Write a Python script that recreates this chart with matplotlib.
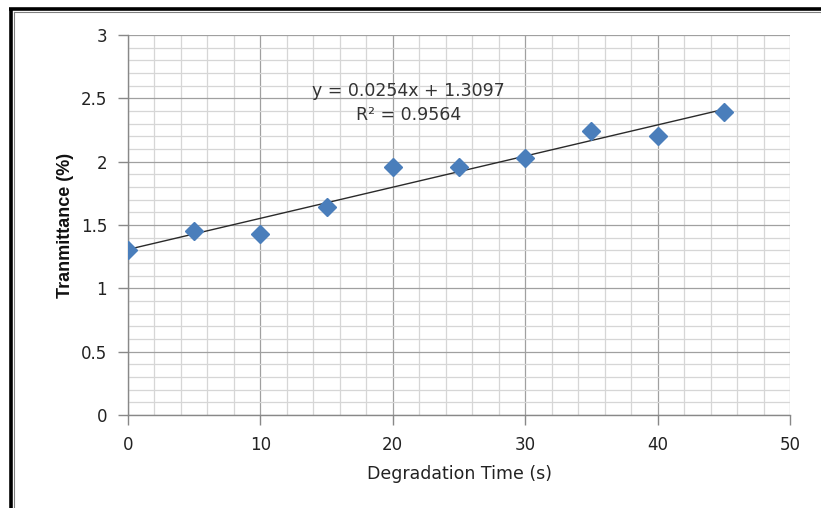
import numpy as np
import matplotlib
matplotlib.use("Agg")
import matplotlib.pyplot as plt
from matplotlib.lines import Line2D

time_s = [0, 5, 10, 15, 20, 25, 30, 35, 40, 45]
transmittance = [1.30, 1.45, 1.43, 1.64, 1.96, 1.96, 2.03, 2.24, 2.20, 2.39]
eq_text = "y = 0.0254x + 1.3097"
r2_text = "R² = 0.9564"
x_ticks = [0, 10, 20, 30, 40, 50]
y_ticks = [0, 0.5, 1, 1.5, 2, 2.5, 3]
y_tick_labels = ["0", "0.5", "1", "1.5", "2", "2.5", "3"]

plt.rcParams['font.family'] = ['DejaVu Sans']

W, H = 821, 508
fig = plt.figure(figsize=(W / 100, H / 100), dpi=100)
ax = fig.add_axes([128 / W, 1 - 415 / H, (790 - 128) / W, (415 - 35) / H])

# outer frame
fig.add_artist(Line2D([10.5 / W, 10.5 / W], [0, 1 - 9 / H], transform=fig.transFigure,
                      color='black', lw=2.6, solid_capstyle='butt'))
fig.add_artist(Line2D([9 / W, 1], [1 - 9 / H, 1 - 9 / H], transform=fig.transFigure,
                      color='black', lw=2.6, solid_capstyle='butt'))
fig.add_artist(Line2D([13.5 / W, 13.5 / W], [0, 1 - 11.8 / H], transform=fig.transFigure,
                      color='#808080', lw=0.8))
fig.add_artist(Line2D([13.5 / W, 1], [1 - 11.8 / H, 1 - 11.8 / H], transform=fig.transFigure,
                      color='#808080', lw=0.8))

ax.set_xlim(0, 50)
ax.set_ylim(0, 3)
ax.set_xticks(x_ticks)
ax.set_yticks(y_ticks)
ax.set_yticklabels(y_tick_labels)
ax.set_xticks(np.arange(0, 51, 2), minor=True)
ax.set_yticks(np.arange(0, 3.01, 0.1), minor=True)
ax.grid(which='minor', color='#d6d6d6', lw=0.9)
ax.grid(which='major', color='#a0a0a0', lw=0.9)
ax.set_axisbelow(True)
ax.tick_params(which='minor', length=0)
ax.tick_params(which='major', length=7, width=1, color='#888888', labelsize=12,
               labelcolor='#222222')
ax.tick_params(axis='y', pad=8)
ax.tick_params(axis='x', pad=8)
for s in ['top', 'right']:
    ax.spines[s].set_visible(False)
for s in ['left', 'bottom']:
    ax.spines[s].set_color('#888888')
    ax.spines[s].set_linewidth(1)

slope, intercept = np.polyfit(time_s, transmittance, 1)
xs = np.array([min(time_s), max(time_s)])
ax.plot(xs, slope * xs + intercept, color='#2a2a2a', lw=1.0, zorder=3)
ax.plot(time_s, transmittance, linestyle='none', marker='D', markersize=9,
        color='#4a7ebb', markeredgecolor='#4a7ebb', zorder=4)

ax.text(21.2, 2.56, eq_text, ha='center', va='center', fontsize=12.5, color='#333333')
ax.text(21.2, 2.37, r2_text, ha='center', va='center', fontsize=12.5, color='#333333')

ax.set_xlabel("Degradation Time (s)", fontsize=12.5, color='#222222', labelpad=8)
ax.set_ylabel("Tranmittance (%)", fontsize=13, fontweight='bold', color='#111111',
              labelpad=5, family=['Liberation Sans', 'DejaVu Sans'])

fig.savefig("out.png", dpi=100)
